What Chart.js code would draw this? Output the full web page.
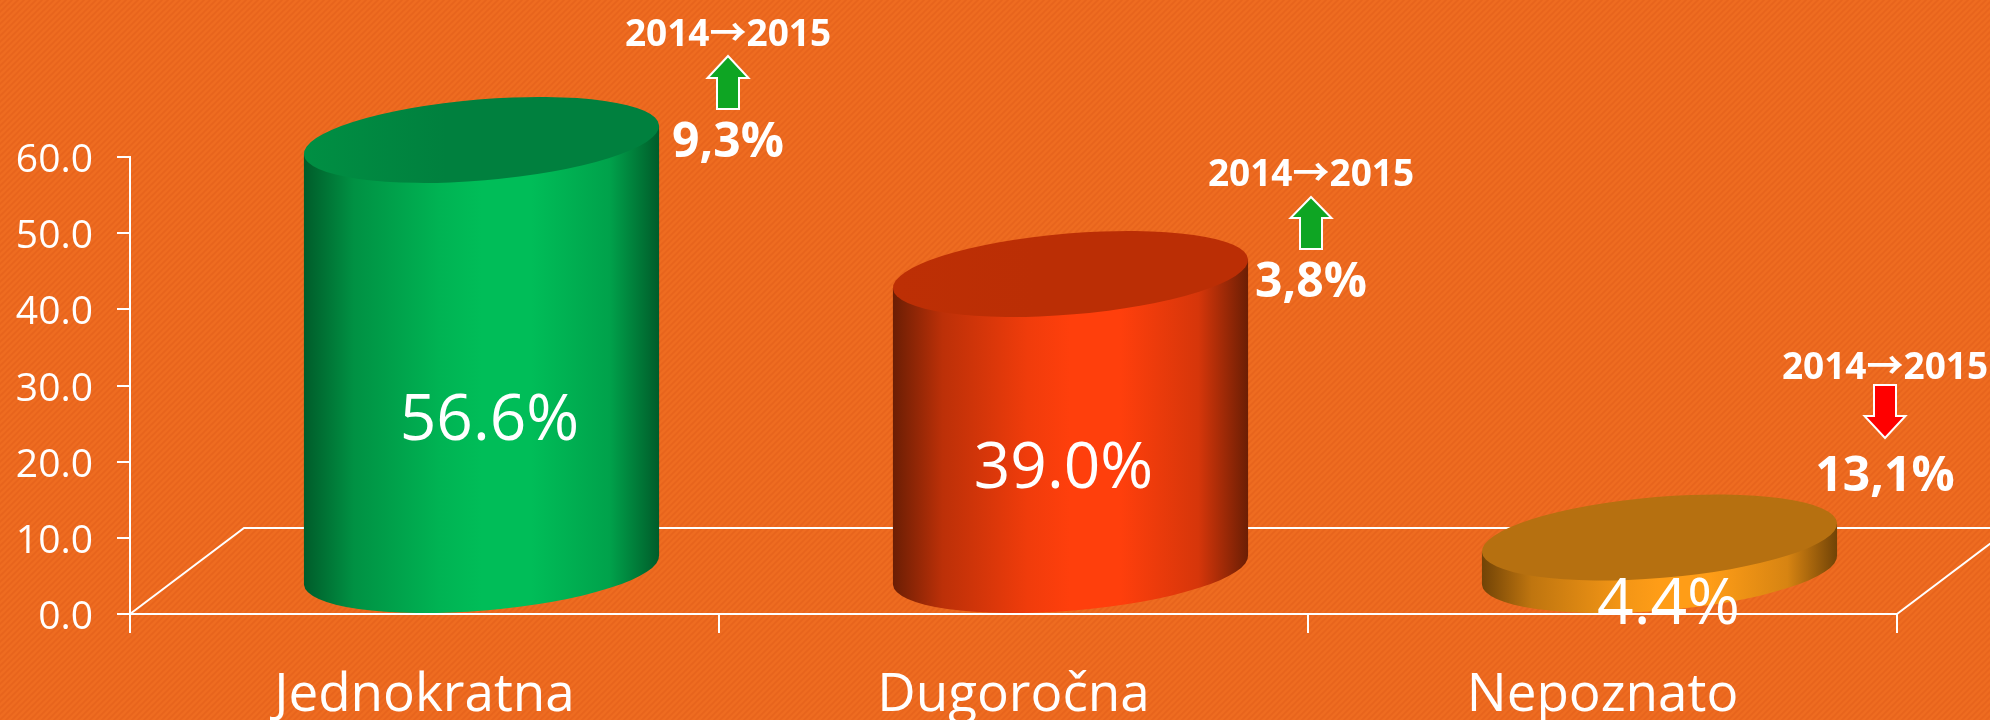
<!DOCTYPE html>
<html>
<head>
<meta charset="utf-8">
<title>Jednokratna / Dugoročna / Nepoznato</title>
<script src="https://cdn.jsdelivr.net/npm/chart.js@4"></script>
<style>
  html, body { margin: 0; padding: 0; background: #ec6a20; overflow: hidden; }
  canvas { display: block; }
</style>
</head>
<body>
<canvas id="myChart" width="1990" height="720"></canvas>
<script>
// chart data
const categories = ['Jednokratna', 'Dugoročna', 'Nepoznato'];
const shares = [56.6, 39.0, 4.4];
const changeLabels = ['9,3%', '3,8%', '13,1%'];
const changeDirections = ['up', 'up', 'down'];
const periodLabel = '2014→2015';
const yTicks = [0, 10, 20, 30, 40, 50, 60];

// look of the cylinders: edge, middle, top
const sideColors = [
  ['#005c2a', '#00bd58'],
  ['#6b1e04', '#ff3f0c'],
  ['#714306', '#ff9d17']
];
const topColors = [
  ['#008f43', '#00803e'],
  ['#bd2f05', '#bb2e05'],
  ['#b67010', '#b67010']
];

// depth of the floor
const depthX = 114;
const depthY = 86;
const tilt = 14;
const textFont = '"Open Sans", "Noto Sans CJK JP", sans-serif';

// annotation placement, relative to the bars
const notePlaces = [
  { x: 728, text: 35, tip: 56, shoulder: 78, end: 109, pct: 143 },
  { x: 1311, text: 175, tip: 197, shoulder: 218, end: 249, pct: 283 },
  { x: 1885, text: 368, tip: 438, shoulder: 416, end: 385, pct: 477 }
];
const labelNudges = [[8, 24], [-7, 5], [9, 9]];

function makeBackground(ctx) {
  const tile = document.createElement('canvas');
  tile.width = 6;
  tile.height = 6;
  const t = tile.getContext('2d');
  t.fillStyle = '#ee6c21';
  t.fillRect(0, 0, 6, 6);
  t.strokeStyle = '#e7641d';
  t.lineWidth = 1.6;
  t.beginPath();
  t.moveTo(-3, 3); t.lineTo(3, -3);
  t.moveTo(0, 6); t.lineTo(6, 0);
  t.moveTo(3, 9); t.lineTo(9, 3);
  t.stroke();
  return ctx.createPattern(tile, 'repeat');
}

// rotated ellipse fitting the box of width w and height depthY
function ellipsePath(ctx, cx, cy, halfW) {
  const hh = depthY / 2;
  const cross = tilt * halfW;
  const angle = Math.atan2(2 * cross, halfW * halfW - hh * hh) / 2;
  const sum = halfW * halfW + hh * hh;
  const diff = Math.sqrt(Math.pow(halfW * halfW - hh * hh, 2) + 4 * cross * cross);
  const a = Math.sqrt((sum + diff) / 2);
  const b = Math.sqrt((sum - diff) / 2);
  ctx.beginPath();
  ctx.ellipse(cx, cy, a, b, -angle, 0, Math.PI * 2);
}

function drawCylinder(ctx, bar, i) {
  const halfW = bar.width / 2;
  const cx = bar.x + depthX / 2;
  const topY = bar.y - depthY / 2;
  const bottomY = bar.base - depthY / 2;
  const left = cx - halfW;
  const right = cx + halfW;
  const dark = sideColors[i][0];
  const bright = sideColors[i][1];

  const side = ctx.createLinearGradient(left, 0, right, 0);
  side.addColorStop(0, dark);
  side.addColorStop(0.14, mix(dark, bright, 0.55));
  side.addColorStop(0.38, mix(dark, bright, 0.9));
  side.addColorStop(0.5, bright);
  side.addColorStop(0.64, bright);
  side.addColorStop(0.86, mix(dark, bright, 0.72));
  side.addColorStop(1, dark);
  ctx.fillStyle = side;

  ellipsePath(ctx, cx, bottomY, halfW);
  ctx.fill();
  ctx.beginPath();
  ctx.moveTo(left, topY + tilt);
  ctx.lineTo(right, topY - tilt);
  ctx.lineTo(right, bottomY - tilt);
  ctx.lineTo(left, bottomY + tilt);
  ctx.closePath();
  ctx.fill();

  const top = ctx.createLinearGradient(left, 0, right, 0);
  top.addColorStop(0, topColors[i][0]);
  top.addColorStop(0.4, topColors[i][1]);
  top.addColorStop(1, topColors[i][1]);
  ctx.fillStyle = top;
  ellipsePath(ctx, cx, topY, halfW);
  ctx.fill();
}

function mix(c1, c2, t) {
  const p = function (c, n) { return parseInt(c.substr(n, 2), 16); };
  const out = [1, 3, 5].map(function (n) {
    return Math.round(p(c1, n) + (p(c2, n) - p(c1, n)) * t);
  });
  return 'rgb(' + out.join(',') + ')';
}

function drawArrow(ctx, place, dir) {
  const x = place.x;
  const headW = 20.5;
  const shaftW = 11;
  ctx.beginPath();
  ctx.moveTo(x, place.tip);
  ctx.lineTo(x + headW, place.shoulder);
  ctx.lineTo(x + shaftW, place.shoulder);
  ctx.lineTo(x + shaftW, place.end);
  ctx.lineTo(x - shaftW, place.end);
  ctx.lineTo(x - shaftW, place.shoulder);
  ctx.lineTo(x - headW, place.shoulder);
  ctx.closePath();
  ctx.fillStyle = dir === 'up' ? '#0ea523' : '#ff0000';
  ctx.fill();
  ctx.lineWidth = 2;
  ctx.strokeStyle = '#ffffff';
  ctx.stroke();
}

const cylinderPlugin = {
  id: 'cylinders',
  beforeDraw: function (chart) {
    const ctx = chart.ctx;
    ctx.save();
    ctx.fillStyle = makeBackground(ctx);
    ctx.fillRect(0, 0, chart.width, chart.height);
    ctx.restore();
  },
  beforeDatasetsDraw: function (chart) {
    // floor outline behind the bars
    const ctx = chart.ctx;
    const y0 = chart.scales.y.getPixelForValue(0);
    const area = chart.chartArea;
    ctx.save();
    ctx.strokeStyle = '#ffffff';
    ctx.lineWidth = 2;
    ctx.beginPath();
    ctx.moveTo(area.left, y0);
    ctx.lineTo(area.left + depthX, y0 - depthY);
    ctx.lineTo(area.right + depthX, y0 - depthY);
    ctx.lineTo(area.right, y0);
    ctx.stroke();
    ctx.restore();
  },
  afterDatasetsDraw: function (chart) {
    const ctx = chart.ctx;
    const bars = chart.getDatasetMeta(0).data;
    ctx.save();
    bars.forEach(function (bar, i) {
      drawCylinder(ctx, bar, i);
    });
    ctx.restore();
  },
  afterDraw: function (chart) {
    const ctx = chart.ctx;
    const bars = chart.getDatasetMeta(0).data;
    ctx.save();
    ctx.textAlign = 'center';
    ctx.textBaseline = 'middle';
    bars.forEach(function (bar, i) {
      ctx.font = '400 64px ' + textFont;
      ctx.fillStyle = '#ffffff';
      ctx.fillText(shares[i].toFixed(1) + '%',
        bar.x + depthX / 2 + labelNudges[i][0],
        (bar.y + bar.base) / 2 + labelNudges[i][1]);

      const place = notePlaces[i];
      ctx.font = '700 37px ' + textFont;
      ctx.fillText(periodLabel, place.x, place.text);
      drawArrow(ctx, place, changeDirections[i]);
      ctx.font = '700 48px ' + textFont;
      ctx.fillStyle = '#ffffff';
      ctx.fillText(changeLabels[i], place.x, place.pct);
    });
    ctx.restore();
  }
};

new Chart(document.getElementById('myChart').getContext('2d'), {
  type: 'bar',
  data: {
    labels: categories,
    datasets: [{
      data: shares,
      backgroundColor: 'rgba(0, 0, 0, 0)',
      borderWidth: 0,
      barPercentage: 0.603,
      categoryPercentage: 1
    }]
  },
  options: {
    responsive: false,
    animation: false,
    layout: { padding: { top: 157, right: 93, left: 0, bottom: 0 } },
    plugins: {
      legend: { display: false },
      tooltip: { enabled: false }
    },
    scales: {
      x: {
        z: 1,
        afterFit: function (scale) { scale.height = 106; },
        grid: { color: '#ffffff', lineWidth: 2, drawOnChartArea: false, tickLength: 19, tickWidth: 2 },
        border: { color: '#ffffff', width: 2 },
        ticks: {
          color: '#ffffff',
          padding: 31,
          maxRotation: 0,
          font: { family: 'Open Sans', size: 53, weight: '400' }
        }
      },
      y: {
        min: 0,
        max: 60,
        afterFit: function (scale) { scale.width = 130; },
        afterBuildTicks: function (scale) {
          scale.ticks = yTicks.map(function (v) { return { value: v }; });
        },
        grid: { color: '#ffffff', lineWidth: 2, drawOnChartArea: false, tickLength: 13, tickWidth: 2 },
        border: { color: '#ffffff', width: 2 },
        ticks: {
          color: '#ffffff',
          padding: 24,
          labelOffset: 4,
          callback: function (value) { return value.toFixed(1); },
          font: { family: 'Open Sans', size: 39, weight: '400' }
        }
      }
    }
  },
  plugins: [cylinderPlugin]
});
</script>
</body>
</html>
